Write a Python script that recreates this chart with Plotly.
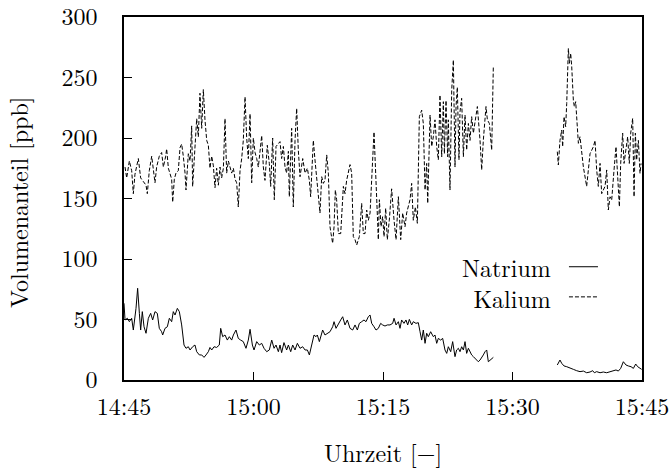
import pandas as pd
import plotly.graph_objects as go

# ---- data (minutes after 14:45, volume fraction in ppb) ----
natrium_t1 = [0.00, 0.12, 0.39, 0.62, 0.89, 1.08, 1.39, 1.58, 1.78, 1.93, 2.12, 2.32, 2.55, 2.82, 3.09, 3.32,
              3.59, 3.86, 4.09, 4.36, 4.48, 4.75, 5.02, 5.25, 5.52, 5.71, 5.91, 6.18, 6.41, 6.68, 6.95, 7.18,
              7.45, 7.65, 7.95, 8.22, 8.42, 8.73, 9.00, 9.27, 9.50, 9.77, 9.96, 10.16, 10.43, 10.73, 11.04,
              11.20, 11.43, 11.70, 11.97, 12.20, 12.47, 12.67, 12.97, 13.24, 13.51, 13.82, 14.13, 14.40, 14.60,
              14.87, 15.06, 15.37, 15.68, 15.95, 16.22, 16.53, 16.83, 17.11, 17.38, 17.61, 17.88, 18.07, 18.26,
              18.53, 18.84, 19.04, 19.31, 19.54, 19.81, 20.08, 20.39, 20.70, 20.97, 21.24, 21.47, 21.74, 22.01,
              22.24, 22.39, 22.63, 22.78, 23.01, 23.28, 23.55, 23.86, 24.17, 24.33, 24.56, 24.83, 25.10, 25.33,
              25.60, 25.87, 26.18, 26.49, 26.76, 27.03, 27.26, 27.53, 27.80, 28.03, 28.30, 28.50, 28.69, 28.96,
              29.19, 29.46, 29.73, 29.96, 30.23, 30.50, 30.81, 31.12, 31.28, 31.51, 31.78, 31.97, 32.16, 32.43,
              32.66, 32.86, 33.05, 33.32, 33.51, 33.82, 34.09, 34.29, 34.48, 34.67, 34.87, 35.06, 35.25, 35.52,
              35.83, 36.02, 36.22, 36.41, 36.68, 36.91, 37.18, 37.38, 37.57, 37.84, 38.07, 38.34, 38.53, 38.73,
              38.92, 39.11, 39.31, 39.50, 39.69, 39.89, 40.08, 40.27, 40.47, 40.66, 40.85, 41.04, 41.24, 41.43,
              41.62, 41.82, 42.01, 42.20, 42.40, 42.59, 42.78]
natrium_v1 = [63.4, 49.6, 51.0, 48.2, 51.0, 41.3, 59.2, 75.8, 55.1, 41.3, 56.5, 44.0, 38.6, 51.0, 55.1, 49.6,
              56.5, 55.1, 42.7, 39.9, 37.2, 42.7, 44.0, 51.0, 48.2, 56.5, 53.7, 59.2, 56.5, 45.5, 28.9, 26.2,
              27.5, 24.8, 27.5, 28.9, 23.4, 20.7, 20.7, 18.7, 20.7, 23.4, 26.9, 24.8, 27.5, 26.9, 28.9,
              42.7, 35.8, 37.2, 33.0, 35.8, 33.0, 37.2, 41.3, 34.4, 33.0, 31.7, 26.2, 33.0, 41.9,
              28.9, 24.8, 31.7, 28.9, 30.3, 26.2, 23.4, 24.8, 33.0, 26.2, 28.9, 23.4, 28.9, 22.6,
              30.9, 24.8, 28.9, 23.4, 28.9, 24.8, 30.3, 26.2, 27.5, 24.8, 24.8, 20.7, 28.9, 37.2,
              35.8, 37.2, 31.7, 35.8, 41.3, 37.2, 38.6, 39.9, 44.0, 48.2, 42.7, 46.8, 49.6, 52.3,
              45.5, 49.6, 42.7, 41.3, 45.5, 41.3, 46.8, 48.2, 49.6, 48.2, 52.3, 53.7, 46.8, 44.0,
              41.3, 42.7, 46.8, 45.5, 44.6, 45.5, 45.5, 46.8, 51.0, 45.5, 48.2, 42.7, 49.6, 46.8,
              49.6, 45.5, 50.1, 45.5, 48.2, 46.8, 47.4, 39.9, 33.0, 41.3, 30.3, 38.6, 35.8, 39.9,
              35.8, 37.2, 30.3, 34.4, 33.0, 34.4, 24.8, 22.0, 27.5, 23.4, 31.7, 19.3, 24.8, 26.2,
              23.4, 27.5, 24.8, 31.7, 22.0, 26.2, 23.4, 20.7, 19.3, 17.9, 16.5, 15.1, 16.5, 19.3,
              20.7, 23.4, 24.8, 15.1, 16.5, 17.9, 18.7]

natrium_t2 = [50.19, 50.50, 50.70, 50.97, 51.28, 51.66, 52.05, 52.43, 52.82, 53.21, 53.59, 53.98, 54.29, 54.48,
              54.75, 55.14, 55.52, 55.91, 56.30, 56.68, 56.99, 57.26, 57.53, 57.84, 58.15, 58.42, 58.73, 59.00,
              59.27, 59.50, 59.77, 59.96]
natrium_v2 = [12.4, 16.5, 13.8, 11.6, 11.0, 9.6, 8.8, 7.7, 6.9, 7.4, 6.0, 6.6, 7.7, 6.0,
              6.9, 6.0, 6.6, 6.0, 6.9, 7.2, 8.3, 7.4, 9.6, 15.1, 12.4, 11.6, 11.0, 9.6,
              13.2, 11.0, 9.6, 8.8]

kalium_t1 = [0.12, 0.31, 0.62, 0.89, 1.08, 1.27, 1.66, 1.93, 2.24, 2.55, 2.70, 2.93, 3.21, 3.40, 3.59, 3.78,
             4.09, 4.36, 4.56, 4.83, 4.94, 5.14, 5.33, 5.52, 5.64, 5.83, 6.02, 6.29, 6.49, 6.68, 6.87, 7.07,
             7.18, 7.45, 7.65, 7.84, 7.95, 8.11, 8.42, 8.61, 8.80, 9.00, 9.19, 9.38, 9.58, 9.77, 9.96, 10.16,
             10.35, 10.54, 10.73, 10.93, 11.12, 11.31, 11.51, 11.70, 11.89, 12.09, 12.28, 12.47, 12.67, 12.86,
             13.05, 13.24, 13.44, 13.63, 13.82, 14.02, 14.21, 14.40, 14.60, 14.79, 14.98, 15.18, 15.37, 15.56,
             15.95, 16.14, 16.33, 16.60, 16.83, 16.99, 17.22, 17.41, 17.61, 17.88, 18.07, 18.26, 18.46, 18.65,
             18.84, 19.04, 19.15, 19.42, 19.61, 19.81, 20.00, 20.19, 20.39, 20.70, 20.97, 21.24, 21.47, 21.62,
             21.93, 22.12, 22.32, 22.70, 22.90, 23.09, 23.28, 23.48, 23.67, 23.86, 23.98, 24.17, 24.33, 24.48,
             24.63, 24.83, 25.10, 25.41, 25.60, 25.79, 26.18, 26.37, 26.56, 26.76, 26.95, 27.26, 27.53, 27.72,
             27.92, 28.11, 28.30, 28.50, 28.96, 29.19, 29.46, 29.58, 29.77, 29.96, 30.12, 30.31, 30.50, 30.73,
             31.00, 31.28, 31.51, 31.78, 32.05, 32.28, 32.55, 32.74, 33.13, 33.32, 33.51, 33.75, 33.98, 34.21,
             34.48, 34.67, 34.87, 35.06, 35.18, 35.45, 35.64, 35.83, 36.02, 36.22, 36.41, 36.60, 36.80, 36.99,
             37.11, 37.30, 37.49, 37.57, 37.76, 37.96, 38.15, 38.34, 38.46, 38.61, 38.80, 38.92, 39.11, 39.31,
             39.50, 39.69, 39.89, 40.08, 40.27, 40.47, 40.66, 40.93, 41.24, 41.43, 41.62, 41.93, 42.09, 42.32,
             42.59, 42.78]
kalium_v1 = [176, 167, 181, 173, 154, 170, 183, 167, 164, 161, 154, 173, 185, 174, 163, 176,
             185, 188, 176, 185, 191, 175, 171, 166, 147, 166, 171, 173, 192, 195, 185, 171,
             157, 187, 181, 210, 160, 181, 216, 201, 237, 208, 240, 215, 198, 194, 175, 185,
             177, 159, 175, 161, 176, 167, 175, 216, 171, 181, 175, 171, 175, 166,
             163, 143, 173, 183, 198, 234, 200, 183, 220, 163, 200, 188, 183, 176,
             202, 176, 165, 194, 179, 160, 200, 149, 193, 196, 197, 183, 193, 176,
             171, 189, 151.5, 208, 143, 198, 224.5, 190, 168, 183, 171, 175, 165, 151.5,
             198, 182, 165, 138, 168, 162.5, 165, 186, 171, 126.7, 121, 113, 126.7, 157,
             149, 121, 121, 160, 154, 165, 178, 171, 118.5, 116, 111.5, 118.5, 146, 121,
             121, 140.5, 132, 138, 205, 165, 116, 149, 126.7, 135, 118.5, 142, 116, 132,
             158, 132, 116, 151.5, 116, 138, 126.7, 138, 149, 162.5, 132, 143, 129.5, 217.6,
             223, 212, 157, 179, 146, 219, 193, 201, 215, 193, 182, 235.5, 184.5, 230,
             187, 231, 184.5, 215, 157, 239.7, 264.5, 176, 226, 242, 182, 221.7, 232.8, 184.5,
             219, 190, 212, 198, 217.6, 204, 215, 226, 198, 173.6, 198, 226, 215, 212,
             190, 259]

kalium_t2 = [50.19, 50.31, 50.50, 50.70, 50.81, 50.97, 51.16, 51.28, 51.47, 51.59, 51.74, 51.86, 52.05, 52.16,
             52.32, 52.51, 52.63, 52.82, 53.01, 53.21, 53.59, 53.98, 54.37, 54.56, 54.75, 54.94, 55.14, 55.33,
             55.52, 55.72, 55.91, 56.10, 56.30, 56.49, 56.76, 56.99, 57.14, 57.38, 57.53, 57.76, 57.92, 58.15,
             58.34, 58.53, 58.69, 58.92, 59.08, 59.23, 59.38, 59.58, 59.77, 59.89]
kalium_v2 = [188.7, 177.7, 198, 206.6, 192.8, 217.6, 209.3, 228.6, 274, 261.7, 270, 259, 231, 226,
             230, 209.3, 195.6, 201, 187, 176, 160, 187, 192.8, 198, 173.6, 160, 179, 154,
             157, 160, 173.6, 140.5, 151.4, 148.8, 173.6, 192.8, 173.6, 143.2, 179, 204, 179, 192.8,
             201, 179, 204, 216.3, 151.4, 204, 181.8, 198, 170.8, 179]

x_ticks = ["14:45", "15:00", "15:15", "15:30", "15:45"]
y_ticks = [0, 50, 100, 150, 200, 250, 300]
series_names = ["Natrium", "Kalium"]

# ---- build ----
BASE = pd.Timestamp("2000-01-01 14:45:00")
def to_time(mins):
    return list(BASE + pd.to_timedelta(mins, unit="min"))

def join(t1, v1, t2, v2):
    return to_time(t1) + [None] + to_time(t2), list(v1) + [None] + list(v2)

nx, ny = join(natrium_t1, natrium_v1, natrium_t2, natrium_v2)
kx, ky = join(kalium_t1, kalium_v1, kalium_t2, kalium_v2)

FONT = "Latin Modern Roman"
FSIZE = 24
DASH = "4px,2px"
fig = go.Figure()
fig.add_trace(go.Scatter(x=kx, y=ky, mode="lines", name=series_names[1],
                         line=dict(color="black", width=1, dash=DASH), connectgaps=False))
fig.add_trace(go.Scatter(x=nx, y=ny, mode="lines", name=series_names[0],
                         line=dict(color="black", width=1), connectgaps=False))

tickvals = [pd.Timestamp("2000-01-01 " + t + ":00") for t in x_ticks]
fig.update_xaxes(type="date", range=[tickvals[0], tickvals[-1]], tickvals=tickvals, ticktext=x_ticks,
                 ticks="inside", ticklen=8, tickcolor="black", tickwidth=1,
                 showline=True, linecolor="black", linewidth=1.5, mirror=True,
                 showgrid=False, zeroline=False, ticklabelstandoff=4, automargin=False,
                 ticklabeloverflow="allow",
                 tickfont=dict(family=FONT, size=FSIZE, color="black"))
fig.update_yaxes(range=[0, 300], tickvals=y_ticks, ticks="inside", ticklen=8, tickcolor="black", tickwidth=1,
                 showline=True, linecolor="black", linewidth=1.5, mirror=True,
                 showgrid=False, zeroline=False, ticklabelstandoff=20, automargin=False,
                 ticklabeloverflow="allow",
                 tickfont=dict(family=FONT, size=FSIZE, color="black"))

ann_font = dict(family=FONT, size=FSIZE, color="black")
fig.add_annotation(text="Volumenanteil [ppb]", xref="paper", yref="paper", x=-0.205, y=0.49,
                   textangle=-90, showarrow=False, font=ann_font,
                   xanchor="center", yanchor="middle")
fig.add_annotation(text="Uhrzeit [−]", xref="paper", yref="paper", x=0.5, y=-0.198,
                   showarrow=False,
                   font=dict(family="Latin Modern Roman, 'DejaVu Serif'", size=FSIZE, color="black"),
                   xanchor="center", yanchor="middle")

# legend (text right-justified in one block, samples to the right)
fig.add_annotation(text="<br>".join(series_names), xref="paper", yref="paper", x=0.829, y=0.269,
                   showarrow=False, align="right", font=ann_font, xanchor="right", yanchor="middle")
leg_y = [0.312, 0.229]
for yy, dash in zip(leg_y, ["solid", DASH]):
    fig.add_shape(type="line", xref="paper", yref="paper", x0=0.859, x1=0.915, y0=yy, y1=yy,
                  line=dict(color="black", width=1, dash=dash))

fig.update_layout(width=672, height=469, showlegend=False,
                  margin=dict(l=124, r=30, t=17, b=89, autoexpand=False),
                  paper_bgcolor="white", plot_bgcolor="white",
                  font=dict(family=FONT, color="black"))
fig.write_html("out.html", config={"displayModeBar": False},
               post_script="document.body.style.margin='0';")
